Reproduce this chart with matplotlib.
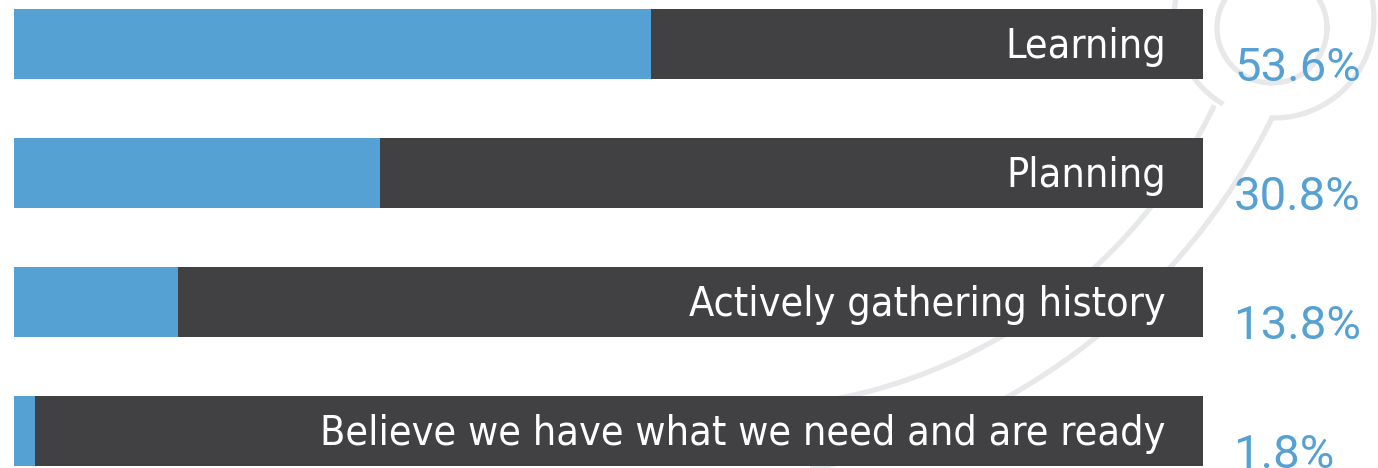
import numpy as np
import matplotlib
matplotlib.use("Agg")
import matplotlib.pyplot as plt
from matplotlib import font_manager

categories = ["Learning", "Planning", "Actively gathering history",
              "Believe we have what we need and are ready"]
values = [53.6, 30.8, 13.8, 1.8]
value_labels = ["53.6%", "30.8%", "13.8%", "1.8%"]

blue = "#55a1d4"
dark = "#414042"
deco = "#e7e8e9"

W, H = 1378, 468
fig = plt.figure(figsize=(W / 100, H / 100), dpi=100)
fig.patch.set_facecolor("white")

# decorative outline in the background (pixel coordinates)
bg = fig.add_axes([0, 0, 1, 1], zorder=0)
bg.set_xlim(0, W)
bg.set_ylim(H, 0)
bg.axis("off")


def fit_circle(pts):
    p = np.asarray(pts, float)
    A = np.c_[2 * p[:, 0], 2 * p[:, 1], np.ones(len(p))]
    b = (p ** 2).sum(1)
    cx, cy, c = np.linalg.lstsq(A, b, rcond=None)[0]
    return cx, cy, np.sqrt(c + cx ** 2 + cy ** 2)


lw = 3.8
t = np.linspace(0, 2 * np.pi, 300)
bg.plot(1272 + 55 * np.cos(t), 28 + 55 * np.sin(t), color=deco, lw=lw)
t = np.radians(np.linspace(122, 451, 300))
bg.plot(1274 + 100 * np.cos(t), 18 + 100 * np.sin(t), color=deco, lw=lw)
for pts in [[(1218, 107), (1147, 200), (1007, 338), (850, 395)],
            [(1272, 118), (1180, 257), (1080, 348), (1013, 395), (815, 468)]]:
    cx, cy, r = fit_circle(pts)
    a1 = np.arctan2(pts[0][1] - cy, pts[0][0] - cx)
    a3 = np.arctan2(pts[-1][1] - cy, pts[-1][0] - cx)
    d = (a3 - a1 + np.pi) % (2 * np.pi) - np.pi
    t = np.linspace(a1, a1 + d * 1.3, 300)
    bg.plot(cx + r * np.cos(t), cy + r * np.sin(t), color=deco, lw=lw, solid_capstyle="butt")

# bars: 0..100 maps to pixels 14..1203
ax = fig.add_axes([0, 0, 1, 1], zorder=1)
ax.patch.set_alpha(0)
px = 1189 / 100
ax.set_xlim(-14 / px, (W - 14) / px)
ax.set_ylim((H - 43.5) / 129, -43.5 / 129)
ax.axis("off")

y = np.arange(len(categories))
bh = 70 / 129
ax.barh(y, [100] * len(y), height=bh, color=dark, left=0)
ax.barh(y, values, height=bh, color=blue, left=0)

# pick the narrowest installed face for the labels
renderer = fig.canvas.get_renderer()
best = None
for fam, st in [("Noto Sans ExtraCondensed", "normal"), ("Noto Sans", "extra-condensed"),
                ("Noto Sans Condensed", "normal"), ("Noto Sans", "condensed"),
                ("DejaVu Sans", "condensed")]:
    fp = font_manager.FontProperties(family=fam, stretch=st)
    try:
        font_manager.findfont(fp, fallback_to_default=False)
    except ValueError:
        continue
    probe = ax.text(0, 0, categories[-1], fontproperties=fp, fontsize=40)
    wpx = probe.get_window_extent(renderer).width
    probe.remove()
    if best is None or wpx < best[1]:
        best = (fp, wpx)
fp, wpx = best
size = min(40 * 844 / wpx, 60)

for i, c in enumerate(categories):
    ax.text((1166 - 14) / px, y[i] + 0.03, c, color="white", ha="right", va="center",
            fontproperties=fp, fontsize=size)
for i, v in enumerate(value_labels):
    ax.text((1234 - 14) / px, y[i] + bh / 2 + 0.02, v, color=blue, ha="left",
            va="baseline", fontsize=34, family=["Roboto", "DejaVu Sans"])

fig.savefig("out.png", dpi=100)
